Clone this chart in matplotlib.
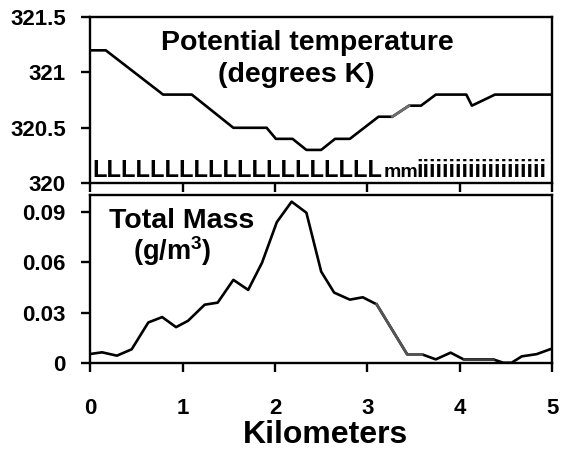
import matplotlib.pyplot as plt

plt.rcParams['font.family'] = ['Liberation Sans', 'DejaVu Sans']
plt.rcParams['font.weight'] = 'bold'
plt.rcParams['mathtext.fontset'] = 'custom'
plt.rcParams['mathtext.rm'] = 'Liberation Sans:bold'
plt.rcParams['mathtext.bf'] = 'Liberation Sans:bold'

# Potential temperature (K) along the track
km_suhu = [0, 0.17, 0.79, 1.10, 1.55, 1.91, 2.01, 2.19, 2.34, 2.50, 2.65,
           2.81, 3.12, 3.27, 3.45, 3.58, 3.74, 4.07, 4.13, 4.38, 5.0]
suhu = [321.2, 321.2, 320.8, 320.8, 320.5, 320.5, 320.4, 320.4, 320.3, 320.3, 320.4,
        320.4, 320.6, 320.6, 320.7, 320.7, 320.8, 320.8, 320.7, 320.8, 320.8]

# Total mass (g/m3)
km_massa = [0.00, 0.13, 0.29, 0.45, 0.63, 0.78, 0.93, 1.06, 1.24, 1.38, 1.55,
            1.71, 1.86, 2.02, 2.18, 2.34, 2.50, 2.64, 2.81, 2.95, 3.10, 3.43,
            3.59, 3.74, 3.90, 4.04, 4.36, 4.47, 4.56, 4.67, 4.83, 5.00]
massa = [0.0054, 0.0064, 0.0044, 0.0082, 0.0242, 0.0274, 0.0214, 0.0252, 0.0348, 0.0360, 0.0496,
         0.0436, 0.0598, 0.0840, 0.0962, 0.0896, 0.0545, 0.0420, 0.0378, 0.0392, 0.0350, 0.0052,
         0.0052, 0.0022, 0.0062, 0.0022, 0.0022, 0.0002, 0.0002, 0.0040, 0.0053, 0.0087]

suhu_ticks = [320, 320.5, 321, 321.5]
suhu_labels = ['320', '320.5', '321', '321.5']
massa_ticks = [0, 0.03, 0.06, 0.09]
massa_labels = ['0', '0.03', '0.06', '0.09']
km_ticks = [0, 1, 2, 3, 4, 5]

# jenis partikel di atas sumbu bawah panel suhu
kode_L = 'L' * 20
kode_m = 'mm'
kode_i = 'i' * 20

fig = plt.figure(figsize=(5.63, 4.51), dpi=100)
ax1 = fig.add_axes([0.160, 0.594, 0.821, 0.368])
ax2 = fig.add_axes([0.160, 0.195, 0.821, 0.372])

ax1.plot(km_suhu, suhu, color='black', lw=1.9)
ax1.plot(km_suhu[13:15], suhu[13:15], color='#6e6e6e', lw=1.9)
ax2.plot(km_massa, massa, color='black', lw=1.9)
ax2.plot(km_massa[20:23], massa[20:23], color='#555555', lw=1.9)
ax2.plot(km_massa[25:27], massa[25:27], color='#3c3c3c', lw=1.9)

ax1.set_xlim(0, 5)
ax1.set_ylim(320, 321.5)
ax1.set_yticks(suhu_ticks)
ax1.set_yticklabels(suhu_labels)
ax1.set_xticks(km_ticks)
ax1.set_xticklabels([])

ax2.set_xlim(0, 5)
ax2.set_ylim(0, 0.1)
ax2.set_yticks(massa_ticks)
ax2.set_yticklabels(massa_labels)
ax2.set_xticks(km_ticks)
ax2.set_xticklabels([str(k) for k in km_ticks])

for ax in (ax1, ax2):
    for s in ax.spines.values():
        s.set_linewidth(1.7)
    ax.tick_params(axis='y', direction='out', length=6.5, width=1.7, pad=11, labelsize=16)
    ax.tick_params(axis='x', direction='out', length=6.5, width=1.7, labelsize=16)
ax2.tick_params(axis='x', pad=19)

ax1.text(2.35, 321.2, 'Potential temperature', ha='center', va='baseline', fontsize=20.5, fontweight='bold')
ax1.text(2.23, 320.91, '(degrees K)', ha='center', va='baseline', fontsize=20.5, fontweight='bold')
ax1.text(0.03, 320.055, kode_L, ha='left', va='baseline', fontsize=17, fontweight='bold')
ax1.text(3.18, 320.055, kode_m, ha='left', va='baseline', fontsize=14, fontweight='bold')
ax1.text(3.53, 320.055, kode_i, ha='left', va='baseline', fontsize=16.8, fontweight='bold')

ax2.text(0.99, 0.0805, 'Total Mass', ha='center', va='baseline', fontsize=20.5, fontweight='bold')
ax2.text(0.89, 0.0615, r'(g/m$^{3}$)', ha='center', va='baseline', fontsize=19.5, fontweight='bold')

fig.text(0.579, 0.018, 'Kilometers', ha='center', va='baseline', fontsize=23, fontweight='bold')

fig.savefig('out.png', dpi=100)
